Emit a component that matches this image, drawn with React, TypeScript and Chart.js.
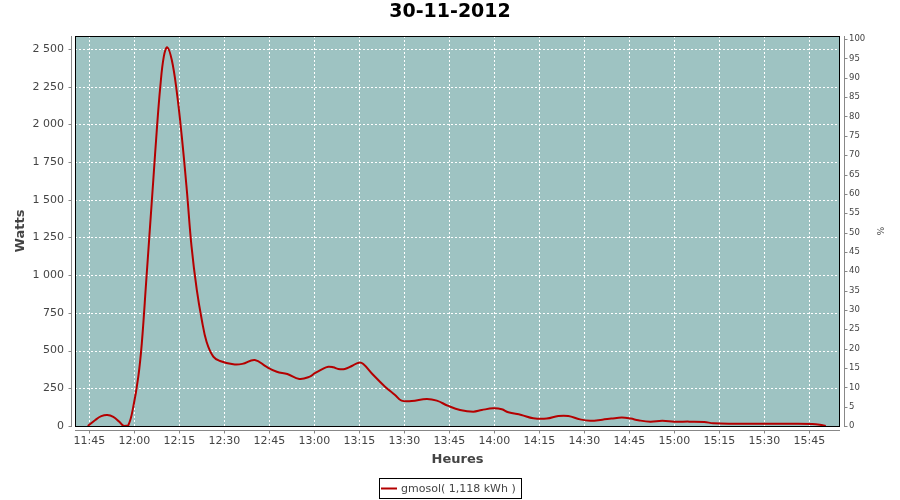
import React, { useEffect, useRef } from "react";
import { Chart, registerables } from "chart.js";

Chart.register(...registerables);

const TITLE = "30-11-2012";
const SERIES_LABEL = "gmosol( 1,118 kWh )";
const X_TITLE = "Heures";
const Y_TITLE = "Watts";
const Y2_TITLE = "%";

const TIMES = [
  "11:44:30", "11:47:00", "11:49:00", "11:51:00", "11:53:00", "11:55:00", "11:56:30", "11:58:00",
  "11:59:40", "12:01:20", "12:02:30", "12:04:00", "12:05:10", "12:06:20", "12:07:30", "12:08:40",
  "12:09:50", "12:11:00", "12:12:30", "12:14:05", "12:15:50", "12:17:30", "12:19:05", "12:20:50",
  "12:22:30", "12:24:05", "12:26:20", "12:28:35", "12:33:00", "12:36:00", "12:40:10", "12:44:00",
  "12:47:30", "12:51:00", "12:55:00", "12:58:30", "13:00:10", "13:02:30", "13:04:40", "13:06:20",
  "13:08:00", "13:10:10", "13:12:30", "13:14:50", "13:16:20", "13:19:40", "13:23:35", "13:26:55",
  "13:29:05", "13:32:30", "13:37:30", "13:40:50", "13:44:40", "13:48:35", "13:53:00", "13:55:50",
  "13:59:40", "14:02:30", "14:04:40", "14:09:00", "14:13:00", "14:17:30", "14:21:20", "14:24:40",
  "14:28:35", "14:32:00", "14:36:00", "14:39:00", "14:42:30", "14:45:30", "14:48:00", "14:52:00",
  "14:56:00", "15:00:00", "15:05:00", "15:10:00", "15:13:00", "15:20:00", "15:30:00", "15:40:00",
  "15:46:00", "15:48:30", "15:50:30",
];

const WATTS = [
  0, 40, 65, 73, 60, 28, 0, 5,
  128, 327, 548, 968, 1300, 1631, 1963, 2250,
  2449, 2511, 2427, 2228, 1919, 1565, 1189, 902,
  703, 559, 460, 431, 409, 412, 438, 393,
  360, 345, 312, 327, 350, 376, 393, 389,
  378, 378, 398, 420, 411, 338, 261, 206,
  168, 166, 179, 168, 133, 106, 95, 106,
  117, 111, 91, 73, 51, 49, 66, 66,
  44, 35, 42, 49, 56, 49, 38, 29,
  35, 29, 29, 27, 18, 15, 15, 15,
  13, 8, 0,
];

const X_MIN_LABEL = "11:40:14";
const X_MAX_LABEL = "15:55:14";
const X_STEP = 15;
const Y_MAX = 2586;
const Y_STEP = 250;
const Y2_MAX = 100.8;
const Y2_STEP = 5;

const FONT = "'DejaVu Sans', sans-serif";
const TEXT = "#444444";
const AXIS = "#888888";
const LINE = "#b40000";
const PLOT_BG = "#9ec3c2";

const toMin = (s: string) => {
  const [h, m, sec] = s.split(":").map(Number);
  return h * 60 + m + (sec || 0) / 60;
};
const fmtTime = (v: number) => {
  const h = Math.floor(v / 60);
  const m = Math.round(v - h * 60);
  return `${h}:${m < 10 ? "0" : ""}${m}`;
};
const fmtThousands = (v: number) => String(v).replace(/\B(?=(\d{3})+(?!\d))/g, " ");

const stepTicks = (step: number) => (scale: any) => {
  const out: any[] = [];
  const start = Math.ceil(scale.min / step - 1e-9) * step;
  for (let v = start; v <= scale.max + 1e-9; v += step) out.push({ value: v });
  scale.ticks = out;
};

const jfPlugin = {
  id: "jfree",
  beforeDatasetsDraw(chart: any) {
    const { ctx, chartArea: a, scales } = chart;
    ctx.save();
    ctx.fillStyle = PLOT_BG;
    ctx.fillRect(a.left, a.top, a.right - a.left, a.bottom - a.top);
    ctx.strokeStyle = "#ffffff";
    ctx.lineWidth = 1;
    ctx.setLineDash([2, 2]);
    scales.x.ticks.forEach((t: any) => {
      const px = Math.round(scales.x.getPixelForValue(t.value)) + 0.5;
      ctx.beginPath();
      ctx.moveTo(px, a.top);
      ctx.lineTo(px, a.bottom);
      ctx.stroke();
    });
    scales.y.ticks.forEach((t: any) => {
      if (t.value === 0) return;
      const py = Math.round(scales.y.getPixelForValue(t.value)) + 0.5;
      ctx.beginPath();
      ctx.moveTo(a.left, py);
      ctx.lineTo(a.right, py);
      ctx.stroke();
    });
    ctx.restore();
  },
  afterDatasetsDraw(chart: any) {
    const { ctx, chartArea: a, scales } = chart;
    ctx.save();
    ctx.setLineDash([]);
    ctx.strokeStyle = "#000000";
    ctx.lineWidth = 1;
    ctx.strokeRect(Math.round(a.left) + 0.5, Math.round(a.top) + 0.5, Math.round(a.right - a.left) - 1, Math.round(a.bottom - a.top));
    ctx.strokeStyle = AXIS;
    const lx = Math.round(a.left) - 3.5;
    const rx = Math.round(a.right) + 4.5;
    const by = Math.round(a.bottom) + 4.5;
    ctx.beginPath();
    ctx.moveTo(lx, a.top);
    ctx.lineTo(lx, a.bottom + 1);
    ctx.moveTo(rx, a.top);
    ctx.lineTo(rx, a.bottom + 1);
    ctx.moveTo(a.left, by);
    ctx.lineTo(a.right, by);
    ctx.stroke();
    ctx.beginPath();
    scales.y.ticks.forEach((t: any) => {
      const py = Math.round(scales.y.getPixelForValue(t.value)) + 0.5;
      ctx.moveTo(lx - 3, py);
      ctx.lineTo(lx, py);
    });
    scales.y2.ticks.forEach((t: any) => {
      const py = Math.round(scales.y2.getPixelForValue(t.value)) + 0.5;
      ctx.moveTo(rx, py);
      ctx.lineTo(rx + 3, py);
    });
    scales.x.ticks.forEach((t: any) => {
      const px = Math.round(scales.x.getPixelForValue(t.value)) + 0.5;
      ctx.moveTo(px, by);
      ctx.lineTo(px, by + 3);
    });
    ctx.stroke();
    ctx.restore();
  },
  afterDraw(chart: any) {
    const { ctx, chartArea: a } = chart;
    ctx.save();
    ctx.fillStyle = "#000000";
    ctx.font = `bold 19px ${FONT}`;
    ctx.textAlign = "center";
    ctx.textBaseline = "middle";
    ctx.fillText(TITLE, 450, 12);
    ctx.fillStyle = TEXT;
    ctx.font = `bold 13px ${FONT}`;
    ctx.fillText(X_TITLE, (a.left + a.right) / 2, 460);
    const cy = (a.top + a.bottom) / 2;
    ctx.save();
    ctx.translate(21, cy);
    ctx.rotate(-Math.PI / 2);
    ctx.fillText(Y_TITLE, 0, 0);
    ctx.restore();
    ctx.save();
    ctx.font = `9px ${FONT}`;
    ctx.translate(879, cy);
    ctx.rotate(Math.PI / 2);
    ctx.fillText(Y2_TITLE, 0, 0);
    ctx.restore();
    ctx.strokeStyle = "#000000";
    ctx.lineWidth = 1;
    ctx.strokeRect(379.5, 478.5, 142, 20);
    ctx.strokeStyle = LINE;
    ctx.lineWidth = 2;
    ctx.beginPath();
    ctx.moveTo(381, 488.5);
    ctx.lineTo(397, 488.5);
    ctx.stroke();
    ctx.fillStyle = TEXT;
    ctx.font = `11px ${FONT}`;
    ctx.textAlign = "left";
    ctx.fillText(SERIES_LABEL, 401, 489);
    ctx.restore();
  },
};

export default function App() {
  const ref = useRef<HTMLCanvasElement | null>(null);
  useEffect(() => {
    document.body.style.margin = "0";
    const canvas = ref.current;
    if (!canvas) return;
    const data = TIMES.map((t, i) => ({ x: toMin(t), y: WATTS[i] }));
    const chart = new Chart(canvas, {
      type: "line",
      data: {
        datasets: [
          {
            label: SERIES_LABEL,
            data,
            borderColor: LINE,
            borderWidth: 2,
            pointRadius: 0,
            tension: 0.4,
            fill: false,
            yAxisID: "y",
          },
        ],
      },
      options: {
        responsive: false,
        animation: false,
        devicePixelRatio: 1,
        layout: { padding: { top: 36, left: 0, right: 0, bottom: 0 } },
        plugins: { legend: { display: false }, title: { display: false }, tooltip: { enabled: false } },
        scales: {
          x: {
            type: "linear",
            position: "bottom",
            min: toMin(X_MIN_LABEL),
            max: toMin(X_MAX_LABEL),
            grid: { display: false, drawTicks: false },
            border: { display: false },
            afterBuildTicks: stepTicks(X_STEP),
            afterFit: (s: any) => {
              s.height = 74;
            },
            ticks: {
              autoSkip: false,
              maxRotation: 0,
              padding: 9,
              color: TEXT,
              font: { family: FONT, size: 11 },
              callback: (v: any) => fmtTime(Number(v)),
            },
          },
          y: {
            type: "linear",
            position: "left",
            min: 0,
            max: Y_MAX,
            grid: { display: false, drawTicks: false },
            border: { display: false },
            afterBuildTicks: stepTicks(Y_STEP),
            afterFit: (s: any) => {
              s.width = 75;
            },
            ticks: {
              autoSkip: false,
              padding: 11,
              color: TEXT,
              font: { family: FONT, size: 11 },
              callback: (v: any) => fmtThousands(Number(v)),
            },
          },
          y2: {
            type: "linear",
            position: "right",
            min: 0,
            max: Y2_MAX,
            grid: { display: false, drawTicks: false },
            border: { display: false },
            afterBuildTicks: stepTicks(Y2_STEP),
            afterFit: (s: any) => {
              s.width = 60;
            },
            ticks: {
              autoSkip: false,
              padding: 9,
              color: TEXT,
              font: { family: FONT, size: 8.5 },
              callback: (v: any) => String(Math.round(Number(v))),
            },
          },
        },
      },
      plugins: [jfPlugin],
    });
    return () => chart.destroy();
  }, []);
  return (
    <div style={{ width: 900, height: 500, background: "#ffffff" }}>
      <canvas ref={ref} width={900} height={500} style={{ display: "block", width: 900, height: 500 }} />
    </div>
  );
}
